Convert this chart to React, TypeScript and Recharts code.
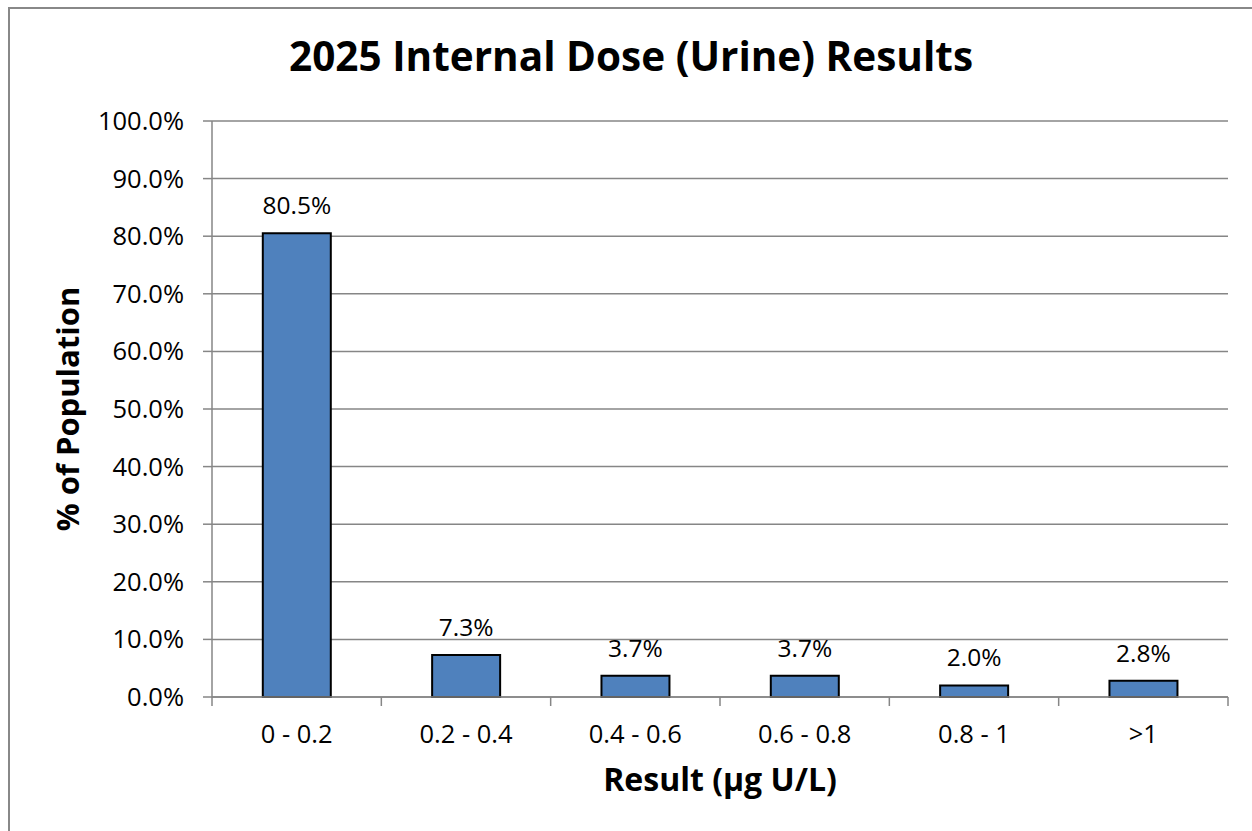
import React from "react";
import {
  BarChart,
  Bar,
  XAxis,
  YAxis,
  CartesianGrid,
  LabelList,
} from "recharts";

const categories = ["0 - 0.2", "0.2 - 0.4", "0.4 - 0.6", "0.6 - 0.8", "0.8 - 1", ">1"];
const percentages = [80.5, 7.3, 3.7, 3.7, 2.0, 2.8];
const yTicks = [0, 10, 20, 30, 40, 50, 60, 70, 80, 90, 100];

const data = categories.map((name, i) => ({ name, value: percentages[i] }));

const FONT = "'Open Sans', sans-serif";
const GRID = "#868686";
const TICK_MARGIN = 28;
const TICK_LEN = 9;
const pct = (v: any) => (typeof v === "number" ? v.toFixed(1) + "%" : v);

// Excel puts the x tick marks on the category boundaries, not under the bars
function CategoryTick(props: any) {
  const { x, y, payload, index, visibleTicksCount } = props;
  const half = payload?.offset ?? 0;
  const axisY = y - TICK_MARGIN;
  const isLast = index === visibleTicksCount - 1;
  return (
    <g>
      <line x1={x - half} x2={x - half} y1={axisY} y2={axisY + TICK_LEN} stroke={GRID} strokeWidth={1.5} />
      {isLast && (
        <line x1={x + half} x2={x + half} y1={axisY} y2={axisY + TICK_LEN} stroke={GRID} strokeWidth={1.5} />
      )}
      <text x={x} y={y} dy="0.71em" textAnchor="middle" fill="#000" fontSize={25.5}>
        {payload.value}
      </text>
    </g>
  );
}

export default function App() {
  return (
    <div
      style={{
        position: "fixed",
        left: 8,
        top: 7,
        width: 1244,
        height: 824,
        boxSizing: "border-box",
        borderLeft: "2px solid #888",
        borderTop: "2px solid #888",
        background: "#fff",
        fontFamily: FONT,
      }}
    >
      <div
        style={{
          position: "absolute",
          left: 0,
          right: 0,
          top: 19,
          textAlign: "center",
          fontSize: 40.5,
          fontWeight: 700,
          color: "#000",
        }}
      >
        2025 Internal Dose (Urine) Results
      </div>

      <BarChart
        width={1242}
        height={822}
        data={data}
        margin={{ top: 112, right: 24, bottom: 34, left: 20 }}
        barCategoryGap="30%"
        style={{ fontFamily: FONT }}
      >
        <CartesianGrid vertical={false} stroke={GRID} strokeWidth={1.5} />

        <XAxis
          dataKey="name"
          height={100}
          axisLine={{ stroke: GRID, strokeWidth: 1.5 }}
          tickLine={false}
          tickSize={0}
          tickMargin={TICK_MARGIN}
          tick={<CategoryTick />}
          interval={0}
          label={{
            value: "Result (µg U/L)",
            position: "insideBottom",
            offset: 6,
            style: { fontSize: 32, fontWeight: 700, fill: "#000" },
          }}
        />

        <YAxis
          width={182}
          domain={[0, 100]}
          ticks={yTicks}
          tickFormatter={pct}
          tickSize={9}
          tickMargin={19}
          tick={{ fill: "#000", fontSize: 25.5 }}
          tickLine={{ stroke: GRID, strokeWidth: 1.5 }}
          axisLine={{ stroke: GRID, strokeWidth: 1.5 }}
          label={{
            value: "% of Population",
            angle: -90,
            position: "insideLeft",
            offset: 38,
            style: { fontSize: 31, fontWeight: 700, fill: "#000", textAnchor: "middle" },
          }}
        />

        <Bar
          dataKey="value"
          fill="#4F81BD"
          stroke="#000"
          strokeWidth={2}
          isAnimationActive={false}
        >
          <LabelList
            dataKey="value"
            position="top"
            offset={19}
            formatter={pct}
            fill="#000"
            fontSize={24.5}
          />
        </Bar>
      </BarChart>
    </div>
  );
}
